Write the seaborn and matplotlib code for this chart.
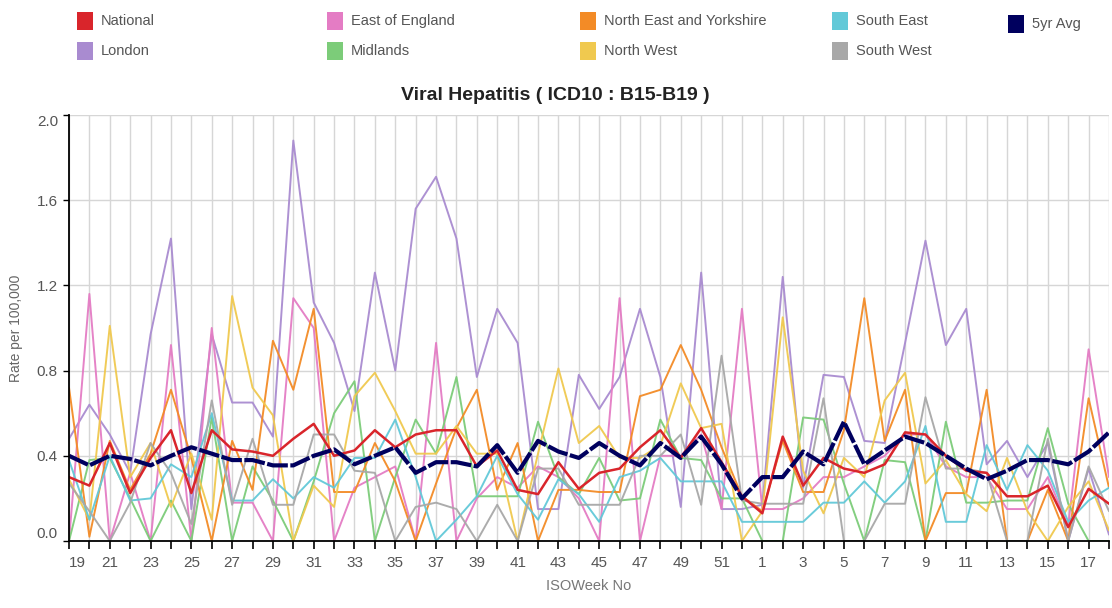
import matplotlib
matplotlib.use("Agg")
import matplotlib.pyplot as plt
import seaborn as sns
import numpy as np
from matplotlib.patches import Rectangle

# ---------------- data ----------------
weeks = list(range(19, 53)) + list(range(1, 19))

national = [0.30, 0.26, 0.46, 0.225, 0.39, 0.52, 0.225, 0.52, 0.43, 0.42,
            0.40, 0.48, 0.55, 0.40, 0.425, 0.52, 0.44, 0.50, 0.52, 0.52,
            0.35, 0.425, 0.24, 0.22, 0.37, 0.245, 0.32, 0.34, 0.44, 0.52,
            0.39, 0.53, 0.37, 0.21, 0.13, 0.49, 0.26, 0.39, 0.34, 0.32,
            0.36, 0.51, 0.50, 0.40, 0.33, 0.32, 0.21, 0.21, 0.26, 0.065,
            0.245, 0.175]

avg5 = [0.40, 0.355, 0.40, 0.385, 0.355, 0.40, 0.44, 0.41, 0.38, 0.38,
        0.355, 0.355, 0.40, 0.43, 0.36, 0.40, 0.44, 0.32, 0.37, 0.37,
        0.35, 0.45, 0.32, 0.47, 0.42, 0.39, 0.46, 0.40, 0.355, 0.46,
        0.39, 0.49, 0.36, 0.20, 0.30, 0.30, 0.42, 0.36, 0.56, 0.36,
        0.425, 0.49, 0.46, 0.40, 0.34, 0.29, 0.33, 0.38, 0.38, 0.36,
        0.42, 0.51]

london = [0.48, 0.64, 0.50, 0.32, 0.97, 1.42, 0.15, 0.97, 0.65, 0.65,
          0.49, 1.88, 1.12, 0.93, 0.61, 1.26, 0.80, 1.56, 1.71, 1.42,
          0.77, 1.09, 0.93, 0.15, 0.15, 0.78, 0.62, 0.77, 1.09, 0.77,
          0.16, 1.26, 0.15, 0.15, 0.17, 1.24, 0.25, 0.78, 0.77, 0.47,
          0.46, 0.93, 1.41, 0.92, 1.09, 0.36, 0.47, 0.30, 0.46, 0.0,
          0.34, 0.03]

east_of_england = [0.0, 1.16, 0.0, 0.32, 0.0, 0.92, 0.0, 1.0, 0.18, 0.18,
                   0.0, 1.14, 1.0, 0.0, 0.25, 0.30, 0.35, 0.0, 0.93, 0.0,
                   0.20, 0.30, 0.25, 0.35, 0.30, 0.20, 0.0, 1.14, 0.0, 0.40,
                   0.40, 0.50, 0.15, 1.09, 0.15, 0.15, 0.20, 0.30, 0.30, 0.35,
                   0.40, 0.50, 0.50, 0.35, 0.30, 0.30, 0.15, 0.15, 0.30, 0.07,
                   0.90, 0.30]

midlands = [0.0, 0.38, 0.39, 0.20, 0.0, 0.19, 0.0, 0.58, 0.0, 0.35,
            0.19, 0.0, 0.28, 0.60, 0.75, 0.0, 0.30, 0.57, 0.41, 0.77,
            0.21, 0.21, 0.21, 0.56, 0.30, 0.22, 0.39, 0.19, 0.20, 0.57,
            0.39, 0.38, 0.20, 0.20, 0.0, 0.0, 0.58, 0.57, 0.27, 0.0,
            0.38, 0.37, 0.0, 0.56, 0.18, 0.18, 0.19, 0.19, 0.53, 0.175,
            0.0, 0.0]

north_east_yorkshire = [0.72, 0.02, 0.47, 0.24, 0.41, 0.71, 0.39, 0.0, 0.47, 0.24,
                        0.94, 0.71, 1.09, 0.23, 0.23, 0.46, 0.28, 0.0, 0.27, 0.53,
                        0.71, 0.24, 0.46, 0.0, 0.24, 0.24, 0.23, 0.23, 0.68, 0.71,
                        0.92, 0.71, 0.44, 0.21, 0.14, 0.47, 0.23, 0.23, 0.52, 1.14,
                        0.47, 0.71, 0.0, 0.225, 0.225, 0.71, 0.0, 0.0, 0.24, 0.0,
                        0.67, 0.25]

north_west = [0.29, 0.10, 1.01, 0.30, 0.46, 0.16, 0.41, 0.10, 1.15, 0.72,
              0.59, 0.0, 0.26, 0.16, 0.68, 0.79, 0.61, 0.41, 0.41, 0.54,
              0.41, 0.41, 0.0, 0.41, 0.81, 0.46, 0.54, 0.39, 0.39, 0.45,
              0.74, 0.53, 0.55, 0.0, 0.14, 1.05, 0.33, 0.13, 0.39, 0.30,
              0.66, 0.79, 0.27, 0.38, 0.22, 0.14, 0.39, 0.14, 0.0, 0.16,
              0.28, 0.05]

south_east = [0.38, 0.10, 0.40, 0.19, 0.20, 0.36, 0.30, 0.60, 0.19, 0.19,
              0.29, 0.20, 0.30, 0.25, 0.39, 0.39, 0.57, 0.30, 0.0, 0.10,
              0.21, 0.40, 0.22, 0.10, 0.29, 0.22, 0.09, 0.30, 0.33, 0.39,
              0.28, 0.28, 0.28, 0.09, 0.09, 0.09, 0.09, 0.18, 0.18, 0.28,
              0.18, 0.28, 0.54, 0.09, 0.09, 0.45, 0.24, 0.45, 0.33, 0.09,
              0.19, 0.25]

south_west = [0.27, 0.14, 0.0, 0.18, 0.46, 0.32, 0.08, 0.66, 0.17, 0.48,
              0.17, 0.17, 0.50, 0.50, 0.33, 0.32, 0.0, 0.16, 0.18, 0.15,
              0.0, 0.17, 0.0, 0.34, 0.34, 0.17, 0.17, 0.17, 0.40, 0.40,
              0.50, 0.17, 0.87, 0.19, 0.175, 0.175, 0.175, 0.67, 0.0, 0.0,
              0.175, 0.175, 0.675, 0.34, 0.34, 0.32, 0.0, 0.0, 0.48, 0.0,
              0.35, 0.14]

series = {
    "London": london,
    "East of England": east_of_england,
    "Midlands": midlands,
    "North East and Yorkshire": north_east_yorkshire,
    "North West": north_west,
    "South East": south_east,
    "South West": south_west,
    "National": national,
    "5yr Avg": avg5,
}

colors = {
    "National": "#d9252b",
    "London": "#a98bd0",
    "East of England": "#e47cc4",
    "Midlands": "#7ccc79",
    "North East and Yorkshire": "#f38b26",
    "North West": "#f0c94f",
    "South East": "#62c9d8",
    "South West": "#a8a8a8",
    "5yr Avg": "#00005e",
}

# ---------------- figure ----------------
sns.set_theme(style="white")
plt.rcParams["font.family"] = ["Liberation Sans", "DejaVu Sans"]

W, H = 1112, 608
fig = plt.figure(figsize=(W / 100, H / 100), dpi=100)
ax = fig.add_axes([69 / W, 1 - 541 / H, 1040 / W, 426 / H])

x = np.arange(len(weeks))
for name, vals in series.items():
    if name == "5yr Avg":
        sns.lineplot(x=x, y=vals, ax=ax, color=colors[name], lw=3.0,
                     linestyle=(0, (5, 0.6)), zorder=5, legend=False)
    elif name == "National":
        sns.lineplot(x=x, y=vals, ax=ax, color=colors[name], lw=1.8,
                     zorder=4, legend=False)
    else:
        sns.lineplot(x=x, y=vals, ax=ax, color=colors[name], lw=1.4,
                     zorder=3, legend=False, alpha=0.95)

ax.set_xlim(0, len(weeks) - 1)
ax.set_ylim(0, 2.0)
ax.set_xticks(x)
ax.set_xticklabels([str(w) if i % 2 == 0 else "" for i, w in enumerate(weeks)])
ax.set_yticks([0, 0.4, 0.8, 1.2, 1.6, 2.0])
ax.set_yticklabels(["0.0", "0.4", "0.8", "1.2", "1.6", "2.0"])

ax.grid(True, color="#d6d6d6", lw=1.0)
ax.set_axisbelow(True)
for s in ["top", "right"]:
    ax.spines[s].set_visible(False)
for s in ["left", "bottom"]:
    ax.spines[s].set_color("black")
    ax.spines[s].set_linewidth(1.3)
    ax.spines[s].set_zorder(6)

ax.tick_params(axis="x", length=6, width=1.2, color="black", labelsize=11,
               labelcolor="#555555", pad=5, bottom=True)
ax.tick_params(axis="y", length=4, width=1.0, color="black", labelsize=11,
               labelcolor="#555555", pad=4, left=True)

ylabs = ax.get_yticklabels()
ylabs[0].set_va("bottom")
ylabs[-1].set_va("top")
xlabs = ax.get_xticklabels()
xlabs[0].set_ha("left")

ax.set_xlabel("ISOWeek No", fontsize=10.5, color="#777777", labelpad=6)
ax.set_ylabel("Rate per 100,000", fontsize=10, color="#666666", labelpad=10)

fig.text(555 / W, 1 - 96 / H, "Viral Hepatitis ( ICD10 : B15-B19 )",
         ha="center", va="center", fontsize=14, fontweight="bold", color="#222222")

# ---------------- legend ----------------
legend_items = [
    ("National", 77, 21), ("East of England", 327, 21),
    ("North East and Yorkshire", 580, 21), ("South East", 832, 21),
    ("5yr Avg", 1008, 24),
    ("London", 77, 51), ("Midlands", 327, 51),
    ("North West", 580, 51), ("South West", 832, 51),
]
for name, px, py in legend_items:
    fig.add_artist(Rectangle((px / W, 1 - (py + 9) / H), 16 / W, 18 / H,
                             transform=fig.transFigure, facecolor=colors[name],
                             edgecolor="none"))
    fig.text((px + 24) / W, 1 - py / H, name, ha="left", va="center",
             fontsize=10.5, color="#555555")

fig.savefig("out.png", dpi=100)
